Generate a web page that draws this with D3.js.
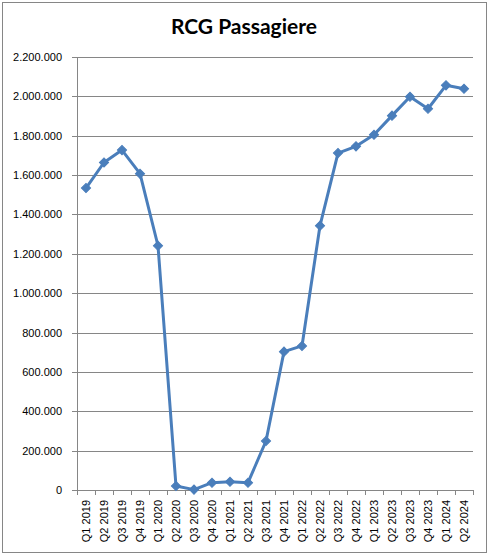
<!DOCTYPE html>
<html>
<head>
<meta charset="utf-8">
<script src="https://cdn.jsdelivr.net/npm/d3@7"></script>
<style>
  html, body { margin: 0; padding: 0; background: #ffffff; }
  svg { display: block; }
</style>
</head>
<body>
<div id="chart"></div>
<script>

var quarters = [
    'Q1 2019', 'Q2 2019', 'Q3 2019', 'Q4 2019',
    'Q1 2020', 'Q2 2020', 'Q3 2020', 'Q4 2020',
    'Q1 2021', 'Q2 2021', 'Q3 2021', 'Q4 2021',
    'Q1 2022', 'Q2 2022', 'Q3 2022', 'Q4 2022',
    'Q1 2023', 'Q2 2023', 'Q3 2023', 'Q4 2023',
    'Q1 2024', 'Q2 2024'
];

var passengers = [
    1534000, 1664000, 1727000, 1607000,
    1241000, 20000, 2000, 37000,
    42000, 37000, 249000, 703000,
    732000, 1343000, 1712000, 1746000,
    1805000, 1902000, 1998000, 1937000,
    2056000, 2039000
];

var y_ticks = [ 0, 200000, 400000, 600000, 800000, 1000000, 1200000,
    1400000, 1600000, 1800000, 2000000, 2200000 ];

var title_text = 'RCG Passagiere';

var width = 488;
var height = 554;
var margin = { top: 57, right: 15, bottom: 64, left: 77 };
var plot_w = width - margin.left - margin.right;
var plot_h = height - margin.top - margin.bottom;

var grid_color = '#868686';
var line_color = '#4a7ebb';

var de = d3.formatLocale({ decimal: ',', thousands: '.', grouping: [ 3 ], currency: [ '', ' €' ] });
var fmt = de.format( ',d' );

var svg = d3.select( '#chart' ).append( 'svg' )
    .attr( 'width', width )
    .attr( 'height', height );

// Chart area border
svg.append( 'rect' )
    .attr( 'x', 2.5 )
    .attr( 'y', 2.5 )
    .attr( 'width', 484 )
    .attr( 'height', 550 )
    .attr( 'fill', '#ffffff' )
    .attr( 'stroke', grid_color )
    .attr( 'stroke-width', 1 );

svg.append( 'text' )
    .attr( 'x', 244 )
    .attr( 'y', 34 )
    .attr( 'text-anchor', 'middle' )
    .style( 'font-family', 'Lato, "Open Sans", sans-serif' )
    .style( 'font-weight', 'bold' )
    .style( 'font-size', '21px' )
    .attr( 'fill', '#000000' )
    .text( title_text );

var g = svg.append( 'g' )
    .attr( 'transform', 'translate(' + margin.left + ',' + margin.top + ')' );

var x = d3.scaleBand()
    .domain( quarters )
    .range( [ 0, plot_w ] )
    .padding( 0 );

var y = d3.scaleLinear()
    .domain( [ 0, 2200000 ] )
    .range( [ plot_h, 0 ] );

// Horizontal gridlines
g.append( 'g' )
    .attr( 'class', 'grid' )
    .call( d3.axisLeft( y ).tickValues( y_ticks ).tickSize( -plot_w ).tickFormat( '' ) )
    .call( function ( s ) {
        s.select( '.domain' ).remove();
        s.selectAll( 'line' )
            .attr( 'stroke', grid_color )
            .attr( 'shape-rendering', 'crispEdges' );
    });

// Y axis with labels
g.append( 'g' )
    .attr( 'class', 'y-axis' )
    .call( d3.axisLeft( y ).tickValues( y_ticks ).tickSize( 5 ).tickPadding( 10 ).tickFormat( fmt ) )
    .call( function ( s ) {
        s.select( '.domain' ).attr( 'stroke', grid_color ).attr( 'shape-rendering', 'crispEdges' );
        s.selectAll( 'line' ).attr( 'stroke', grid_color ).attr( 'shape-rendering', 'crispEdges' );
        s.selectAll( 'text' )
            .style( 'font-family', '"Liberation Sans", Arial, sans-serif' )
            .style( 'font-size', '11px' )
            .attr( 'fill', '#000000' );
    });

// X axis with rotated category labels
g.append( 'g' )
    .attr( 'class', 'x-axis' )
    .attr( 'transform', 'translate(0,' + plot_h + ')' )
    .call( d3.axisBottom( x ).tickSize( 0 ).tickSizeOuter( 0 ) )
    .call( function ( s ) {
        s.select( '.domain' ).attr( 'stroke', grid_color ).attr( 'shape-rendering', 'crispEdges' );
        s.selectAll( 'text' )
            .attr( 'transform', 'rotate(-90)' )
            .attr( 'x', -10 )
            .attr( 'y', 0 )
            .attr( 'dy', '0.35em' )
            .attr( 'text-anchor', 'end' )
            .style( 'font-family', '"Liberation Sans", Arial, sans-serif' )
            .style( 'font-size', '11px' )
            .attr( 'fill', '#000000' );
    });

// Tick marks at category boundaries
var boundaries = quarters.map( function ( q ) { return x( q ); } ).concat( [ x.range()[ 1 ] ] );

g.append( 'g' )
    .attr( 'class', 'x-ticks' )
    .selectAll( 'line' )
    .data( boundaries )
    .join( 'line' )
    .attr( 'x1', function ( d ) { return d; } )
    .attr( 'x2', function ( d ) { return d; } )
    .attr( 'y1', plot_h )
    .attr( 'y2', plot_h + 5 )
    .attr( 'stroke', grid_color )
    .attr( 'shape-rendering', 'crispEdges' );

var data = d3.zip( quarters, passengers );

var line = d3.line()
    .x( function ( d ) { return x( d[ 0 ] ) + x.bandwidth() / 2; } )
    .y( function ( d ) { return y( d[ 1 ] ); } );

g.append( 'path' )
    .datum( data )
    .attr( 'fill', 'none' )
    .attr( 'stroke', line_color )
    .attr( 'stroke-width', 3 )
    .attr( 'stroke-linejoin', 'round' )
    .attr( 'd', line );

var marker = d3.symbol().type( d3.symbolSquare ).size( 42 );

g.append( 'g' )
    .attr( 'class', 'markers' )
    .selectAll( 'path' )
    .data( data )
    .join( 'path' )
    .attr( 'transform', function ( d ) {
        return 'translate(' + ( x( d[ 0 ] ) + x.bandwidth() / 2 ) + ',' + y( d[ 1 ] ) + ') rotate(45)';
    })
    .attr( 'd', marker )
    .attr( 'fill', line_color )
    .attr( 'stroke', line_color )
    .attr( 'stroke-width', 1 );

</script>
</body>
</html>
